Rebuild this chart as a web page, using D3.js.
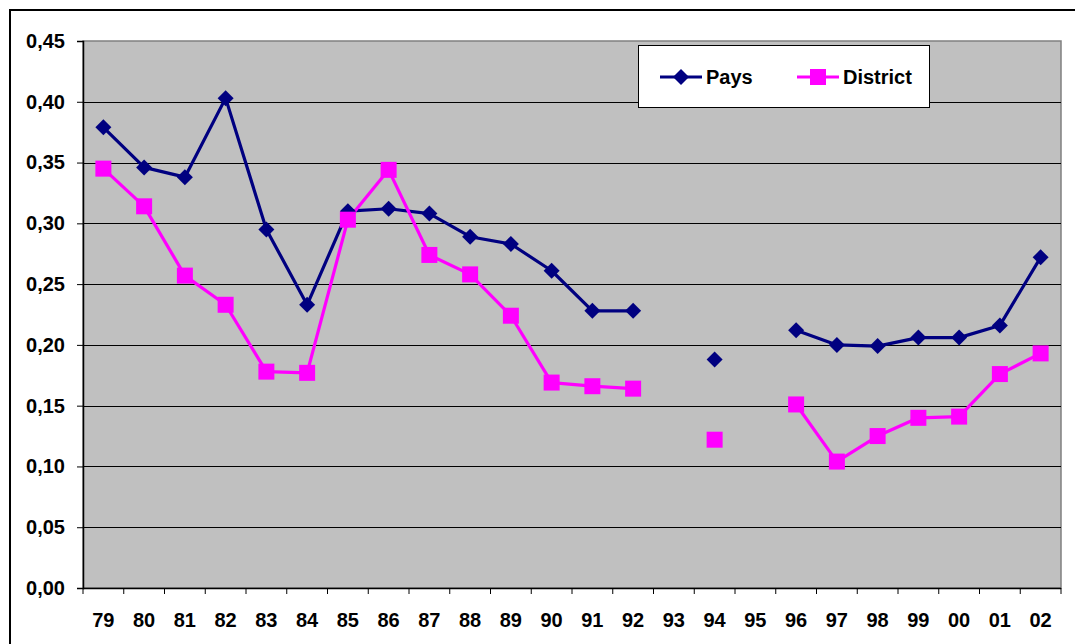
<!DOCTYPE html>
<html>
<head>
<meta charset="utf-8">
<script src="https://cdn.jsdelivr.net/npm/d3@7"></script>
<style>
  body { margin: 0; background: #fff; }
  svg { display: block; font-family: "Liberation Sans", Arial, sans-serif; font-weight: bold; }
</style>
</head>
<body>
<div id="chart"></div>
<script>
// years on the x axis (93 and 95 have no data)
var years = ["79","80","81","82","83","84","85","86","87","88","89","90","91","92","93","94","95","96","97","98","99","00","01","02"];

var pays = [0.379, 0.346, 0.338, 0.403, 0.295, 0.233, 0.310, 0.312, 0.308, 0.289, 0.283, 0.261, 0.228, 0.228, null, 0.188, null, 0.212, 0.200, 0.199, 0.206, 0.206, 0.216, 0.272];
var district = [0.345, 0.314, 0.257, 0.233, 0.178, 0.177, 0.303, 0.344, 0.274, 0.258, 0.224, 0.169, 0.166, 0.164, null, 0.122, null, 0.151, 0.104, 0.125, 0.140, 0.141, 0.176, 0.193];
var yTicks = [0, 0.05, 0.10, 0.15, 0.20, 0.25, 0.30, 0.35, 0.40, 0.45];
var seriesNames = ["Pays", "District"];

var W = 1075, H = 644;
var plot = {left: 83, right: 1061, top: 41, bottom: 588};

var svg = d3.select("#chart").append("svg")
	.attr("width", W)
	.attr("height", H);

// outer frame of the chart
svg.append("rect")
	.attr("x", 10).attr("y", 10)
	.attr("width", W + 20).attr("height", H + 20)
	.attr("fill", "#fff")
	.attr("stroke", "#000")
	.attr("stroke-width", 2);

var x = d3.scaleBand()
	.domain(years)
	.range([plot.left, plot.right]);

var y = d3.scaleLinear()
	.domain([0, 0.45])
	.range([plot.bottom, plot.top]);

// plot area
svg.append("rect")
	.attr("x", plot.left).attr("y", plot.top)
	.attr("width", plot.right - plot.left).attr("height", plot.bottom - plot.top)
	.attr("fill", "#c0c0c0")
	.attr("stroke", "#808080")
	.attr("stroke-width", 1.5);

svg.append("g")
	.selectAll("line")
	.data(yTicks.slice(1, -1))
	.enter().append("line")
	.attr("x1", plot.left).attr("x2", plot.right)
	.attr("y1", function(d) { return Math.round(y(d)) + 0.5; })
	.attr("y2", function(d) { return Math.round(y(d)) + 0.5; })
	.attr("stroke", "#000")
	.attr("stroke-width", 1);

var fmt = function(d) { return d3.format(".2f")(d).replace(".", ","); };

var yAxis = svg.append("g")
	.attr("transform", "translate(" + plot.left + ",0)")
	.call(d3.axisLeft(y).tickValues(yTicks).tickFormat(fmt).tickSize(6).tickPadding(12));
yAxis.select(".domain").attr("stroke", "#000").attr("stroke-width", 1.5);
yAxis.selectAll("text").attr("font-size", "20px").attr("fill", "#000").attr("font-weight", "bold")
	.style("font-family", "Liberation Sans, Arial, sans-serif");

// x axis: ticks between categories
var xAxis = svg.append("g")
	.attr("transform", "translate(0," + plot.bottom + ")");
xAxis.append("line")
	.attr("x1", plot.left).attr("x2", plot.right)
	.attr("y1", 0.5).attr("y2", 0.5)
	.attr("stroke", "#000").attr("stroke-width", 1.5);
var bounds = years.map(function(d) { return x(d); }).concat([plot.right]);
xAxis.selectAll(".tk").data(bounds).enter().append("line")
	.attr("class", "tk")
	.attr("x1", function(d) { return d; }).attr("x2", function(d) { return d; })
	.attr("y1", 0).attr("y2", 6)
	.attr("stroke", "#000");
xAxis.selectAll(".lbl").data(years).enter().append("text")
	.attr("class", "lbl")
	.attr("x", function(d) { return x(d) + x.bandwidth() / 2; })
	.attr("y", 39)
	.attr("text-anchor", "middle")
	.attr("font-size", "20px")
	.text(function(d) { return d; });

var line = d3.line()
	.defined(function(d) { return d != null; })
	.x(function(d, i) { return x(years[i]) + x.bandwidth() / 2; })
	.y(function(d) { return y(d); });

var colors = { Pays: "#000080", District: "#ff00ff" };
var data = { Pays: pays, District: district };

seriesNames.forEach(function(name) {
	svg.append("path")
		.datum(data[name])
		.attr("d", line)
		.attr("fill", "none")
		.attr("stroke", colors[name])
		.attr("stroke-width", 3.2)
		.attr("stroke-linejoin", "round");
});

function marker(g, name, cx, cy) {
	if (name === "Pays") {
		var r = 8;
		g.append("path")
			.attr("d", "M" + cx + "," + (cy - r) + "L" + (cx + r) + "," + cy + "L" + cx + "," + (cy + r) + "L" + (cx - r) + "," + cy + "Z")
			.attr("fill", colors[name]);
	} else {
		g.append("rect")
			.attr("x", cx - 8).attr("y", cy - 8)
			.attr("width", 16).attr("height", 16)
			.attr("fill", colors[name]);
	}
}

seriesNames.forEach(function(name) {
	var g = svg.append("g");
	data[name].forEach(function(v, i) {
		if (v == null) return;
		marker(g, name, x(years[i]) + x.bandwidth() / 2, y(v));
	});
});

// legend
var legend = svg.append("g");
legend.append("rect")
	.attr("x", 638.5).attr("y", 45.5)
	.attr("width", 291).attr("height", 62)
	.attr("fill", "#fff")
	.attr("stroke", "#000")
	.attr("stroke-width", 1);

var legendX = [660, 797];
seriesNames.forEach(function(name, i) {
	var lx = legendX[i];
	legend.append("line")
		.attr("x1", lx).attr("x2", lx + 42)
		.attr("y1", 77).attr("y2", 77)
		.attr("stroke", colors[name])
		.attr("stroke-width", 3.2);
	marker(legend, name, lx + 21, 77);
	legend.append("text")
		.attr("x", lx + 46)
		.attr("y", 84)
		.attr("font-size", "20px")
		.text(name);
});
</script>
</body>
</html>
